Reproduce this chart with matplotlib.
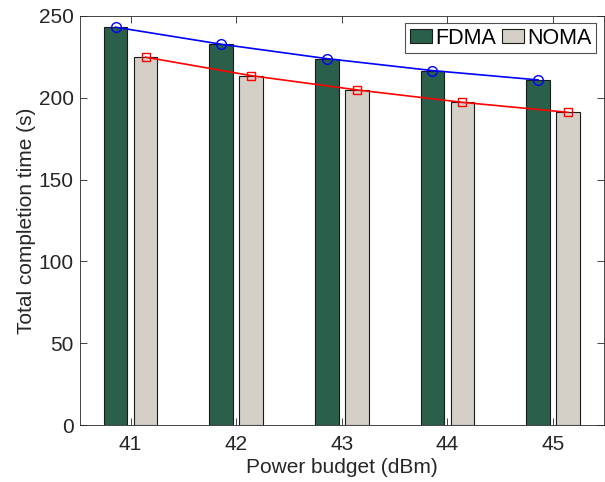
import matplotlib
matplotlib.use("Agg")
import matplotlib.pyplot as plt
import numpy as np

plt.rcParams['font.family'] = ['Liberation Sans', 'DejaVu Sans']

power_dbm = [41, 42, 43, 44, 45]
fdma_time = [243.1, 232.7, 223.9, 216.6, 210.9]
noma_time = [224.8, 213.5, 204.8, 197.2, 191.1]

FDMA_COLOR = '#2a6049'
NOMA_COLOR = '#d4d0c8'
TEXT_COLOR = '#262626'

x = np.array(power_dbm, dtype=float)
offset = 0.142
width = 0.225

fig = plt.figure(figsize=(6.05, 4.82), dpi=100)
ax = fig.add_axes([0.132, 0.118, 0.866, 0.849])

ax.bar(x - offset, fdma_time, width, color=FDMA_COLOR, edgecolor='#1a1a1a',
       linewidth=0.8, label='FDMA', zorder=2)
ax.bar(x + offset, noma_time, width, color=NOMA_COLOR, edgecolor='#1a1a1a',
       linewidth=0.8, label='NOMA', zorder=2)

ax.plot(x - offset, fdma_time, color='blue', linewidth=1.2, marker='o',
        markersize=7, markerfacecolor='none', markeredgecolor='blue', zorder=3)
ax.plot(x + offset, noma_time, color='red', linewidth=1.2, marker='s',
        markersize=5.5, markerfacecolor='none', markeredgecolor='red', zorder=3)

ax.set_xlim(40.52, 45.48)
ax.set_ylim(0, 250)
ax.set_xticks(power_dbm)
ax.set_yticks([0, 50, 100, 150, 200, 250])
ax.tick_params(direction='in', top=True, right=True, labelsize=15,
               colors=TEXT_COLOR, length=5, width=0.6)
ax.tick_params(axis='x', pad=7)
ax.tick_params(axis='y', pad=4.5)
for side in ax.spines.values():
    side.set_color(TEXT_COLOR)
    side.set_linewidth(0.6)

ax.set_xlabel('Power budget (dBm)', fontsize=15, color=TEXT_COLOR, labelpad=3)
ax.set_ylabel('Total completion time (s)', fontsize=15, color=TEXT_COLOR, labelpad=2)

leg = ax.legend(loc='upper right', ncol=2, fontsize=15.5, frameon=True, fancybox=False,
                handlelength=1.05, handleheight=0.6, handletextpad=0.15,
                columnspacing=0.25, borderpad=0.2, borderaxespad=0.35)
leg.get_frame().set_edgecolor(TEXT_COLOR)
leg.get_frame().set_linewidth(0.8)
for txt in leg.get_texts():
    txt.set_color('black')

fig.savefig('out.png', dpi=100)
